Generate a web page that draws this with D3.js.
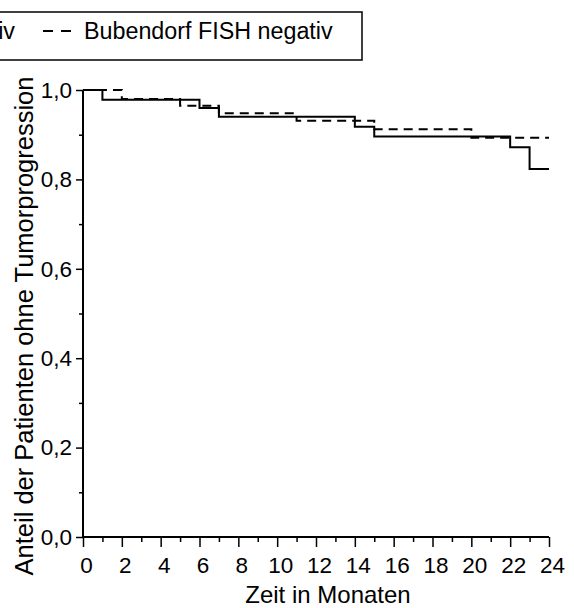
<!DOCTYPE html>
<html>
<head>
<meta charset="utf-8">
<script src="https://cdn.jsdelivr.net/npm/d3@7"></script>
<style>
  body { margin: 0; background: #fff; }
  text { font-family: "Liberation Sans", Arial, sans-serif; fill: #000; }
</style>
</head>
<body>
<div id="chart"></div>
<script>
// data (Kaplan-Meier steps)
var seriesNames = ["Bubendorf FISH positiv", "Bubendorf FISH negativ"];
var positivTimes = [0, 1, 6, 7, 14, 15, 22, 23, 24];
var positivValues = [1.0, 0.978, 0.960, 0.940, 0.918, 0.896, 0.872, 0.823, 0.823];
var negativTimes = [0, 2, 5, 7, 11, 15, 20, 24];
var negativValues = [1.0, 0.980, 0.965, 0.948, 0.931, 0.912, 0.893, 0.893];

var xTicks = [0, 2, 4, 6, 8, 10, 12, 14, 16, 18, 20, 22, 24];
var xMinorTicks = [1, 3, 5, 7, 9, 11, 13, 15, 17, 19, 21, 23];
var yTicks = [0, 0.2, 0.4, 0.6, 0.8, 1.0];
var yTickLabels = ["0,0", "0,2", "0,4", "0,6", "0,8", "1,0"];
var yMinorTicks = [0.1, 0.3, 0.5, 0.7, 0.9];

// svg container
var svgWidth = 574;
var svgHeight = 608;

// plot area in page pixels
var plot = { left: 83, right: 549, top: 90, bottom: 537 };

var svg = d3.select("#chart").append("svg")
  .attr("width", svgWidth)
  .attr("height", svgHeight);

var xScale = d3.scaleLinear().domain([0, 24]).range([plot.left, plot.right]);
var yScale = d3.scaleLinear().domain([0, 1]).range([plot.bottom, plot.top]);

// x axis: major ticks with labels, minor ticks without
var xAxis = d3.axisBottom(xScale).tickValues(xTicks).tickSize(10).tickPadding(10)
  .tickFormat(d3.format("d"));
var xAxisG = svg.append("g")
  .attr("class", "x-axis")
  .attr("transform", `translate(0, ${plot.bottom})`)
  .call(xAxis);
xAxisG.selectAll(".tick text").attr("dx", 3);

svg.append("g")
  .attr("class", "x-axis")
  .attr("transform", `translate(0, ${plot.bottom})`)
  .call(d3.axisBottom(xScale).tickValues(xMinorTicks).tickSize(5).tickFormat(""));

// y axis
var yAxis = d3.axisLeft(yScale).tickValues(yTicks).tickSize(7).tickPadding(4)
  .tickFormat((d, i) => yTickLabels[i]);
var yAxisG = svg.append("g")
  .attr("class", "y-axis")
  .attr("transform", `translate(${plot.left}, 0)`)
  .call(yAxis);

svg.append("g")
  .attr("class", "y-axis")
  .attr("transform", `translate(${plot.left}, 0)`)
  .call(d3.axisLeft(yScale).tickValues(yMinorTicks).tickSize(4).tickFormat(""));

// plain axis lines without outer ticks
svg.selectAll(".x-axis .domain").attr("d", `M${plot.left},0H${plot.right}`);
svg.selectAll(".y-axis .domain").attr("d", `M0,${plot.bottom}V${plot.top}`);
svg.selectAll(".domain")
  .attr("stroke", "#000")
  .attr("stroke-width", 2);
svg.selectAll(".tick line")
  .attr("stroke", "#000")
  .attr("stroke-width", 1.5);
svg.selectAll(".tick text")
  .style("font-size", "22.5px")
  .style("font-family", "'Liberation Sans', Arial, sans-serif")
  .attr("fill", "#000");

// step lines
var stepLine = d3.line()
  .x(d => xScale(d[0]))
  .y(d => yScale(d[1]))
  .curve(d3.curveStepAfter);

var positivData = positivTimes.map((t, i) => [t, positivValues[i]]);
var negativData = negativTimes.map((t, i) => [t, negativValues[i]]);

svg.append("path")
  .attr("d", stepLine(negativData))
  .attr("fill", "none")
  .attr("stroke", "#000")
  .attr("stroke-width", 2)
  .attr("stroke-dasharray", "9,6");

svg.append("path")
  .attr("d", stepLine(positivData))
  .attr("fill", "none")
  .attr("stroke", "#000")
  .attr("stroke-width", 2);

// axis titles
svg.append("text")
  .attr("x", 328)
  .attr("y", 603)
  .attr("text-anchor", "middle")
  .style("font-size", "24px")
  .text("Zeit in Monaten");

svg.append("text")
  .attr("transform", "translate(33, 326) rotate(-90)")
  .attr("text-anchor", "middle")
  .style("font-size", "25.5px")
  .text("Anteil der Patienten ohne Tumorprogression");

// legend (left part runs off the page like in the reference)
var legend = svg.append("g");
legend.append("rect")
  .attr("x", -330)
  .attr("y", 12)
  .attr("width", 692)
  .attr("height", 48)
  .attr("fill", "none")
  .attr("stroke", "#000")
  .attr("stroke-width", 1.5);

legend.append("line")
  .attr("x1", -262).attr("x2", -234)
  .attr("y1", 31).attr("y2", 31)
  .attr("stroke", "#000").attr("stroke-width", 2);
legend.append("text")
  .attr("x", 15)
  .attr("y", 38.5)
  .attr("text-anchor", "end")
  .style("font-size", "23.3px")
  .text(seriesNames[0]);

legend.append("line")
  .attr("x1", 43).attr("x2", 71)
  .attr("y1", 31).attr("y2", 31)
  .attr("stroke", "#000").attr("stroke-width", 2)
  .attr("stroke-dasharray", "10,8");
legend.append("text")
  .attr("x", 84)
  .attr("y", 38.5)
  .style("font-size", "23.3px")
  .text(seriesNames[1]);
</script>
</body>
</html>
